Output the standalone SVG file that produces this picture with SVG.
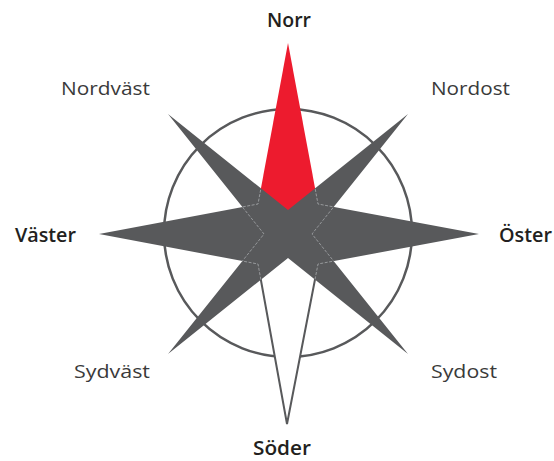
<svg xmlns="http://www.w3.org/2000/svg" width="554" height="461" viewBox="0 0 554 461">
  <style>
    .gray { fill: #58595b; }
    .red { fill: #ed1b2e; }
    .south { fill: #ffffff; stroke: #58595b; stroke-width: 2; stroke-linejoin: miter; }
    .ring { fill: none; stroke: #58595b; stroke-width: 2.5; }
    .dash { fill: none; stroke: #a7a9ac; stroke-width: 0.8; stroke-dasharray: 3 1.5; }
    .card { font-family: "Open Sans", "Liberation Sans", sans-serif; font-size: 19px; font-weight: 600; fill: #231f20; }
    .inter { font-family: "Open Sans", "Liberation Sans", sans-serif; font-size: 19px; font-weight: 400; fill: #3a3a3a; }
  </style>
  <defs>
    <clipPath id="clipDiag">
      <polygon points="168,114 288,210 408,114 312,234 408,354 288,258 168,354 264,234"/>
    </clipPath>
    <clipPath id="clipEW">
      <polygon points="479,234 318,204 288,234 318,264"/>
      <polygon points="99,234 258,204 288,234 258,264"/>
    </clipPath>
  </defs>

  <g id="ring">
    <circle class="ring" cx="288" cy="233" r="124"/>
  </g>

  <g id="cardinal-points">
    <polygon id="point-north" class="red" points="288,43 318,204 288,234 258,204"/>
    <polygon id="point-east" class="gray" points="479,234 318,204 288,234 318,264"/>
    <polygon id="point-west" class="gray" points="99,234 258,204 288,234 258,264"/>
    <polygon id="point-south" class="south" points="287,424 318,264 288,234 258,264"/>
  </g>

  <g id="diagonal-points">
    <polygon class="gray" points="168,114 288,210 408,114 312,234 408,354 288,258 168,354 264,234"/>
  </g>

  <g id="hidden-edges">
    <polygon class="dash" clip-path="url(#clipDiag)" points="288,43 318,204 479,234 318,264 287,424 258,264 99,234 258,204"/>
    <polygon class="dash" clip-path="url(#clipEW)" points="168,114 288,210 408,114 312,234 408,354 288,258 168,354 264,234"/>
  </g>

  <g id="label-north"><text class="card" x="267" y="27" textLength="44" lengthAdjust="spacingAndGlyphs">Norr</text></g>
  <g id="label-northeast"><text class="inter" x="431" y="95" textLength="79" lengthAdjust="spacingAndGlyphs">Nordost</text></g>
  <g id="label-east"><text class="card" x="499" y="242" textLength="53" lengthAdjust="spacingAndGlyphs">Öster</text></g>
  <g id="label-southeast"><text class="inter" x="431" y="378" textLength="66" lengthAdjust="spacingAndGlyphs">Sydost</text></g>
  <g id="label-south"><text class="card" x="253" y="455" textLength="58" lengthAdjust="spacingAndGlyphs">Söder</text></g>
  <g id="label-southwest"><text class="inter" x="74" y="378" textLength="76" lengthAdjust="spacingAndGlyphs">Sydväst</text></g>
  <g id="label-west"><text class="card" x="15" y="242" textLength="61" lengthAdjust="spacingAndGlyphs">Väster</text></g>
  <g id="label-northwest"><text class="inter" x="61" y="95" textLength="89" lengthAdjust="spacingAndGlyphs">Nordväst</text></g>
</svg>
